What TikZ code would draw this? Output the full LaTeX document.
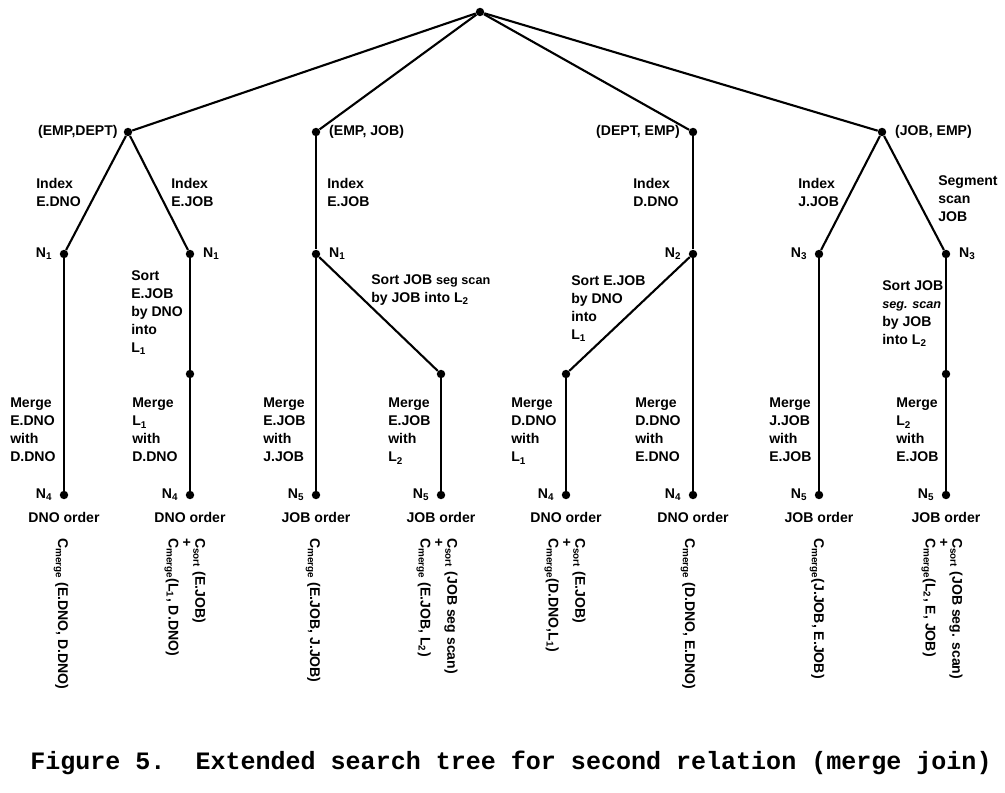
\documentclass[tikz,border=0pt]{standalone}
\usepackage{fontspec}
\setmainfont{Liberation Sans}
\newfontfamily\capfont{Liberation Mono}

\begin{document}
\begin{tikzpicture}[
    x=0.025cm, y=-0.025cm,
    dot/.style={circle, fill=black, inner sep=0pt, minimum size=6pt},
    edge/.style={line width=1.5pt},
    lbl/.style={font=\bfseries\fontsize{10}{12.8}\selectfont, align=left, inner sep=0pt, anchor=north west},
    nlab/.style={font=\bfseries\fontsize{10}{12}\selectfont, inner sep=0pt},
    toplab/.style={font=\bfseries\fontsize{10}{12}\selectfont, inner sep=0pt},
    ordlab/.style={font=\bfseries\fontsize{10}{12}\selectfont, inner sep=0pt},
    cost/.style={rotate=-90, anchor=west, font=\bfseries\fontsize{10}{9.5}\selectfont, align=left, inner sep=0pt},
]
\useasboundingbox (0,0) rectangle (1005,793);
\def\ytop{132}
\def\ymid{254}
\def\ylow{374}
\def\yleaf{495}

% root and the four join orders
\node[dot] (root) at (480,12) {};
\node[dot, label={[toplab, label distance=4pt]left:{(EMP,DEPT)}}] (ed) at (128,\ytop) {};
\node[dot, label={[toplab, label distance=6pt]right:{(EMP, JOB)}}] (ej) at (316,\ytop) {};
\node[dot, label={[toplab, label distance=6pt]left:{(DEPT, EMP)}}] (de) at (693,\ytop) {};
\node[dot, label={[toplab, label distance=6pt]right:{(JOB, EMP)}}] (je) at (882,\ytop) {};

% access paths
\node[dot, label={[nlab, label distance=5pt]left:N\textsubscript{1}}] (a1) at (64,\ymid) {};
\node[dot, label={[nlab, label distance=6pt]right:N\textsubscript{1}}] (a2) at (190,\ymid) {};
\node[dot, label={[nlab, label distance=6pt]right:N\textsubscript{1}}] (b1) at (316,\ymid) {};
\node[dot, label={[nlab, label distance=5pt]left:N\textsubscript{2}}] (c1) at (693,\ymid) {};
\node[dot, label={[nlab, label distance=5pt]left:N\textsubscript{3}}] (d1) at (819,\ymid) {};
\node[dot, label={[nlab, label distance=6pt]right:N\textsubscript{3}}] (d2) at (946,\ymid) {};

% sorted intermediates
\node[dot] (m2) at (190,\ylow) {};
\node[dot] (m4) at (441,\ylow) {};
\node[dot] (m5) at (566,\ylow) {};
\node[dot] (m8) at (946,\ylow) {};

% leaves
\foreach \name/\x/\n/\ord in {
    l1/64/4/DNO, l2/190/4/DNO, l3/316/5/JOB, l4/441/5/JOB,
    l5/566/4/DNO, l6/693/4/DNO, l7/819/5/JOB, l8/946/5/JOB} {
    \node[dot, label={[nlab, label distance=5pt]left:N\textsubscript{\n}},
          label={[ordlab, label distance=9pt]below:\ord{} order}] (\name) at (\x,\yleaf) {};
}

\foreach \a/\b in {root/ed, root/ej, root/de, root/je,
    ed/a1, ed/a2, a1/l1, a2/m2, m2/l2,
    ej/b1, b1/l3, b1/m4, m4/l4,
    de/c1, c1/m5, m5/l5, c1/l6,
    je/d1, je/d2, d1/l7, d2/m8, m8/l8} {
    \draw[edge] (\a) -- (\b);
}

% edge labels
\node[lbl] (t1) at (36,178) {Index\\E.DNO};
\node[lbl] (t2) at (171,178) {Index\\E.JOB};
\node[lbl] (t3) at (327,178) {Index\\E.JOB};
\node[lbl] (t4) at (633,178) {Index\\D.DNO};
\node[lbl] (t5) at (798,178) {Index\\J.JOB};
\node[lbl] (t6) at (938,175) {Segment\\scan\\JOB};

\node[lbl] (s1) at (131,270) {Sort\\E.JOB\\by DNO\\into\\L\textsubscript{1}};
\node[lbl] (s2) at (371,274) {Sort JOB {\small seg scan}\\by JOB into L\textsubscript{2}};
\node[lbl] (s3) at (571,275) {Sort E.JOB\\by DNO\\into\\L\textsubscript{1}};
\node[lbl] (s4) at (882,280) {Sort JOB\\{\small\itshape seg. scan}\\by JOB\\into L\textsubscript{2}};

\node[lbl] (g1) at (10,398) {Merge\\E.DNO\\with\\D.DNO};
\node[lbl] (g2) at (132,398) {Merge\\L\textsubscript{1}\\with\\D.DNO};
\node[lbl] (g3) at (263,398) {Merge\\E.JOB\\with\\J.JOB};
\node[lbl] (g4) at (388,398) {Merge\\E.JOB\\with\\L\textsubscript{2}};
\node[lbl] (g5) at (511,398) {Merge\\D.DNO\\with\\L\textsubscript{1}};
\node[lbl] (g6) at (635,398) {Merge\\D.DNO\\with\\E.DNO};
\node[lbl] (g7) at (769,398) {Merge\\J.JOB\\with\\E.JOB};
\node[lbl] (g8) at (896,398) {Merge\\L\textsubscript{2}\\with\\E.JOB};

% costs
\node[cost] (k1) at (61,538) {C\textsubscript{merge} (E.DNO, D.DNO)};
\node[cost] (k2) at (185,538) {C\textsubscript{sort} (E.JOB)\\+\\C\textsubscript{merge}(L\textsubscript{1}, D.DNO)};
\node[cost] (k3) at (313,538) {C\textsubscript{merge} (E.JOB, J.JOB)};
\node[cost] (k4) at (437,538) {C\textsubscript{sort} (JOB seg scan)\\+\\C\textsubscript{merge} (E.JOB, L\textsubscript{2})};
\node[cost] (k5) at (565,538) {C\textsubscript{sort} (E.JOB)\\+\\C\textsubscript{merge}(D.DNO,L\textsubscript{1})};
\node[cost] (k6) at (688,538) {C\textsubscript{merge} (D.DNO, E.DNO)};
\node[cost] (k7) at (817,538) {C\textsubscript{merge}(J.JOB, E.JOB)};
\node[cost] (k8) at (942,538) {C\textsubscript{sort} (JOB seg. scan)\\+\\C\textsubscript{merge}(L\textsubscript{2}, E, JOB)};

\node[font=\capfont\bfseries\fontsize{17.8}{20}\selectfont, inner sep=0pt] (cap) at (511,763)
    {Figure 5.~~Extended search tree for second relation (merge join)};
\end{tikzpicture}
\end{document}
